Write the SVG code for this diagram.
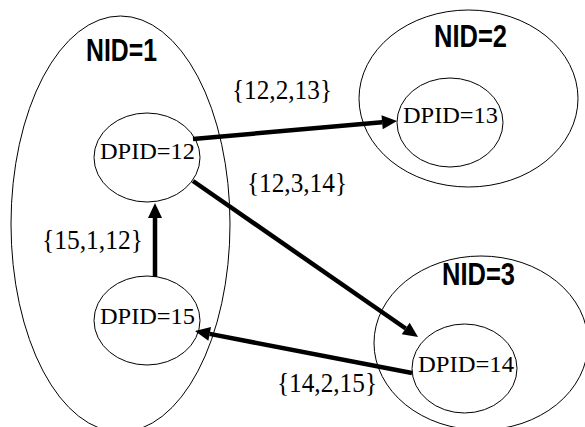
<svg xmlns="http://www.w3.org/2000/svg" width="585" height="427" viewBox="0 0 585 427">
  <style>
    .net { fill: none; stroke: #000; stroke-width: 1; }
    .dp { fill: none; stroke: #000; stroke-width: 1; }
    .nid { font-family: "Liberation Sans Narrow", "Liberation Sans", Arial, sans-serif; font-weight: bold; font-size: 31px; fill: #000; }
    .dpid { font-family: "Liberation Serif", "Times New Roman", serif; font-size: 24px; fill: #000; }
    .lbl { font-family: "Liberation Serif", "Times New Roman", serif; font-size: 27px; fill: #000; }
    .link { stroke: #000; stroke-width: 4.5; fill: none; marker-end: url(#head); }
  </style>
  <defs>
    <marker id="head" markerUnits="userSpaceOnUse" markerWidth="16" markerHeight="15" refX="0" refY="7" orient="auto" overflow="visible">
      <path d="M0,0 L15,7 L0,14 z" fill="#000"/>
    </marker>
  </defs>
  <rect width="585" height="427" fill="#fff"/>

  <!-- network 1 with switches 12 and 15 -->
  <g id="nid1">
    <ellipse class="net" cx="120.5" cy="224" rx="109.5" ry="208"/>
    <text class="nid" x="86" y="61" textLength="71" lengthAdjust="spacingAndGlyphs">NID=1</text>
  </g>
  <g id="dpid12">
    <ellipse class="dp" cx="147" cy="157.5" rx="53" ry="44.5"/>
    <text class="dpid" x="100" y="159" textLength="95" lengthAdjust="spacingAndGlyphs">DPID=12</text>
  </g>
  <g id="dpid15">
    <ellipse class="dp" cx="147" cy="320.5" rx="53" ry="44.5"/>
    <text class="dpid" x="100" y="324" textLength="95" lengthAdjust="spacingAndGlyphs">DPID=15</text>
  </g>

  <!-- network 2 -->
  <g id="nid2">
    <ellipse class="net" cx="468.5" cy="98.5" rx="109.5" ry="88.5"/>
    <text class="nid" x="434" y="47" textLength="73" lengthAdjust="spacingAndGlyphs">NID=2</text>
  </g>
  <g id="dpid13">
    <ellipse class="dp" cx="450" cy="122.5" rx="53" ry="44.5"/>
    <text class="dpid" x="403" y="123" textLength="95" lengthAdjust="spacingAndGlyphs">DPID=13</text>
  </g>

  <!-- network 3 -->
  <g id="nid3">
    <ellipse class="net" cx="481" cy="343" rx="107" ry="87"/>
    <text class="nid" x="442" y="285" textLength="73" lengthAdjust="spacingAndGlyphs">NID=3</text>
  </g>
  <g id="dpid14">
    <ellipse class="dp" cx="464.5" cy="368.5" rx="52.5" ry="44.5"/>
    <text class="dpid" x="418" y="372" textLength="96" lengthAdjust="spacingAndGlyphs">DPID=14</text>
  </g>

  <!-- links with their labels -->
  <g id="links">
    <line class="link" x1="193" y1="139" x2="382.1" y2="122.3"/>
    <line class="link" x1="193" y1="181" x2="405.7" y2="328.5"/>
    <line class="link" x1="155" y1="277" x2="155" y2="218"/>
    <line class="link" x1="412" y1="373" x2="209.7" y2="333.9"/>
    <text class="lbl" x="232" y="99" textLength="100" lengthAdjust="spacingAndGlyphs">{12,2,13}</text>
    <text class="lbl" x="247" y="192" textLength="100" lengthAdjust="spacingAndGlyphs">{12,3,14}</text>
    <text class="lbl" x="42" y="249" textLength="101" lengthAdjust="spacingAndGlyphs">{15,1,12}</text>
    <text class="lbl" x="277" y="392" textLength="100" lengthAdjust="spacingAndGlyphs">{14,2,15}</text>
  </g>
</svg>
